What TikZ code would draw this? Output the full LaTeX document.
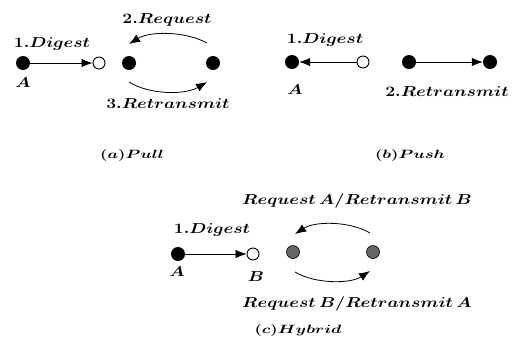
\documentclass[tikz,border=0pt]{standalone}
\usetikzlibrary{arrows.meta}
\newcommand{\lbl}[1]{\scalebox{1.22}[1]{\boldmath$#1$}}
\newcommand{\captxt}[1]{\scalebox{1.4}[1]{\boldmath$#1$}}
\begin{document}
\begin{tikzpicture}[x=1pt,y=-1pt,
  lab/.style={font=\fontsize{14.5}{17}\selectfont, inner sep=0pt},
  caplab/.style={font=\fontsize{12}{14}\selectfont, inner sep=0pt},
  full/.style={circle,fill=black,minimum size=14pt,inner sep=0pt},
  open/.style={circle,draw=black,fill=white,line width=0.9pt,minimum size=12pt,inner sep=0pt},
  grey/.style={circle,draw=black,fill=black!60,minimum size=13pt,inner sep=0pt,line width=0.6pt},
  conn/.style={line width=0.8pt,-{Latex[length=11pt,width=8.5pt]}},
  arc/.style={line width=0.8pt,-{Latex[length=11pt,width=8.5pt]}}]
\useasboundingbox (0,0) rectangle (513,346);

% (a) Pull
\node[full] (pa) at (23,63) {};
\node[open] (pb) at (99,63) {};
\node[full] (pc) at (129,63) {};
\node[full] (pd) at (213,63) {};
\draw[conn] (pa) -- (pb);
\node[lab] (pdig) at (52,44) {\lbl{1.Digest}};
\node[lab] (pA) at (23,83) {\lbl{A}};
\coordinate (pu1) at (207,43);
\coordinate (pu2) at (129,44);
\coordinate (pl1) at (129,82);
\coordinate (pl2) at (207,82);
\draw[arc] (pu1) .. controls (185,31) and (150,31) .. (pu2);
\draw[arc] (pl1) .. controls (150,95) and (185,95) .. (pl2);
\node[lab] (preq) at (167,20) {\lbl{2.Request}};
\node[lab] (pret) at (168,104) {\lbl{3.Retransmit}};
\node[caplab] (pcap) at (132,155) {\captxt{(a)Pull}};

% (b) Push
\node[full] (sa) at (292,62) {};
\node[open] (sb) at (363,62) {};
\node[full] (sc) at (409,62) {};
\node[full] (sd) at (490,62) {};
\draw[conn] (sb) -- (sa);
\draw[conn] (sc) -- (sd);
\node[lab] (sdig) at (325,40) {\lbl{1.Digest}};
\node[lab] (sA) at (295,90) {\lbl{A}};
\node[lab] (sret) at (447,92) {\lbl{2.Retransmit}};
\node[caplab] (scap) at (410,155) {\captxt{(b)Push}};

% (c) Hybrid
\node[full] (ha) at (178,254) {};
\node[open] (hb) at (253,254) {};
\node[grey] (hc) at (293,252) {};
\node[grey] (hd) at (373,252) {};
\draw[conn] (ha) -- (hb);
\node[lab] (hdig) at (212,230) {\lbl{1.Digest}};
\node[lab] (hA) at (177,272) {\lbl{A}};
\node[lab] (hB) at (256,277) {\lbl{B}};
\coordinate (hu1) at (370,233);
\coordinate (hu2) at (295,234);
\coordinate (hl1) at (295,272);
\coordinate (hl2) at (370,271);
\draw[arc] (hu1) .. controls (350,221) and (315,221) .. (hu2);
\draw[arc] (hl1) .. controls (315,284) and (350,284) .. (hl2);
\node[lab] (hreqa) at (357,201) {\lbl{Request\,A/Retransmit\,B}};
\node[lab] (hreqb) at (357,304) {\lbl{Request\,B/Retransmit\,A}};
\node[caplab] (hcap) at (298,330) {\captxt{(c)Hybrid}};
\end{tikzpicture}
\end{document}
